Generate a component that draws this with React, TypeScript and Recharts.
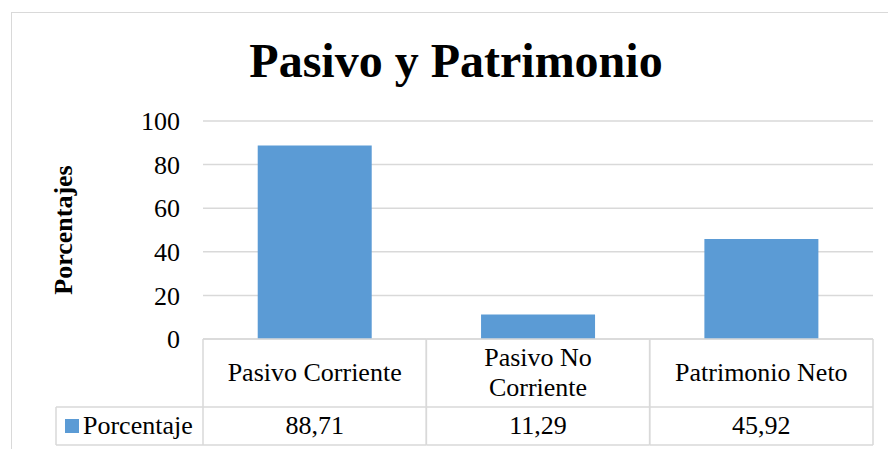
import React from 'react';
import { BarChart, Bar, XAxis, YAxis, CartesianGrid } from 'recharts';

const chartTitle = 'Pasivo y Patrimonio';
const yAxisTitle = 'Porcentajes';
const seriesName = 'Porcentaje';
const categories = ['Pasivo Corriente', 'Pasivo No Corriente', 'Patrimonio Neto'];
const categoryLines = [['Pasivo Corriente'], ['Pasivo No', 'Corriente'], ['Patrimonio Neto']];
const porcentaje = [88.71, 11.29, 45.92];
const yTicks = [0, 20, 40, 60, 80, 100];

const data = categories.map((name, i) => ({ name, value: porcentaje[i], lines: categoryLines[i] }));

const FONT = "'Liberation Serif', 'Times New Roman', serif";
const GRID = '#d9d9d9';
const BAR = '#5B9BD5';

const fmt = (v: number) => v.toFixed(2).replace('.', ',');

function TableTick(props: any) {
  const { x, y, payload, index, width, visibleTicksCount } = props;
  const band = width && visibleTicksCount ? width / visibleTicksCount : 223.3;
  const left = x - band / 2;
  const right = x + band / 2;
  const top = y;
  const mid = top + 68;
  const bottom = top + 106;
  const d = data[index] || data.find((e) => e.name === payload.value);
  const lines = d ? d.lines : [String(payload.value)];
  const textProps = { fontFamily: FONT, fontSize: 26, fill: '#000', textAnchor: 'middle' as const };
  return (
    <g>
      <line x1={left} y1={top} x2={right} y2={top} stroke={GRID} strokeWidth={1.5} />
      <line x1={left} y1={mid} x2={right} y2={mid} stroke={GRID} strokeWidth={1.5} />
      <line x1={left} y1={bottom} x2={right} y2={bottom} stroke={GRID} strokeWidth={1.5} />
      <line x1={left} y1={top} x2={left} y2={bottom} stroke={GRID} strokeWidth={1.5} />
      <line x1={right} y1={top} x2={right} y2={bottom} stroke={GRID} strokeWidth={1.5} />
      {lines.length === 1 ? (
        <text x={x} y={top + 42} {...textProps}>{lines[0]}</text>
      ) : (
        lines.map((t: string, i: number) => (
          <text key={i} x={x} y={top + 27 + i * 30} {...textProps}>{t}</text>
        ))
      )}
      <text x={x} y={top + 95} {...textProps}>{d ? fmt(d.value) : ''}</text>
      {index === 0 && (
        <g>
          <line x1={left - 147} y1={mid} x2={left} y2={mid} stroke={GRID} strokeWidth={1.5} />
          <line x1={left - 147} y1={bottom} x2={left} y2={bottom} stroke={GRID} strokeWidth={1.5} />
          <line x1={left - 147} y1={mid} x2={left - 147} y2={bottom} stroke={GRID} strokeWidth={1.5} />
          <rect x={left - 138} y={mid + 12} width={14} height={14} fill={BAR} />
          <text x={left - 120} y={top + 95} fontFamily={FONT} fontSize={26} fill="#000" textAnchor="start">
            {seriesName}
          </text>
        </g>
      )}
    </g>
  );
}

function YLabel(props: any) {
  const vb = props.viewBox || { x: 0, y: 121, width: 203, height: 218 };
  const cx = vb.x + 72;
  const cy = vb.y + vb.height / 2;
  return (
    <text
      x={cx}
      y={cy}
      transform={`rotate(-90 ${cx} ${cy})`}
      textAnchor="middle"
      fontFamily={FONT}
      fontSize={26}
      fontWeight="bold"
      fill="#000"
    >
      {yAxisTitle}
    </text>
  );
}

export default function App() {
  return (
    <div
      style={{
        position: 'fixed',
        left: 0,
        top: 0,
        width: 888,
        height: 449,
        overflow: 'hidden',
        background: '#fff',
      }}
    >
      <div
        style={{
          position: 'absolute',
          left: 11,
          top: 12,
          width: 900,
          height: 460,
          border: `1.5px solid ${GRID}`,
          boxSizing: 'border-box',
        }}
      />
      <div
        style={{
          position: 'absolute',
          left: 0,
          top: 37,
          width: 912,
          textAlign: 'center',
          fontFamily: FONT,
          fontSize: 48,
          fontWeight: 'bold',
          lineHeight: '48px',
          color: '#000',
        }}
      >
        {chartTitle}
      </div>
      <div style={{ position: 'absolute', left: 0, top: 0 }}>
        <BarChart
          width={888}
          height={449}
          data={data}
          margin={{ top: 121, right: 15, bottom: 0, left: 0 }}
          barCategoryGap="24.5%"
        >
          <CartesianGrid vertical={false} stroke={GRID} strokeWidth={1.5} />
          <XAxis
            dataKey="name"
            height={110}
            axisLine={false}
            tickLine={false}
            tickSize={0}
            tickMargin={0}
            interval={0}
            tick={<TableTick />}
          />
          <YAxis
            width={203}
            domain={[0, 100]}
            ticks={yTicks}
            axisLine={false}
            tickLine={false}
            tickSize={0}
            tickMargin={23}
            tick={{ fontFamily: FONT, fontSize: 26, fill: '#000' }}
            label={{ content: <YLabel /> }}
          />
          <Bar dataKey="value" name={seriesName} fill={BAR} isAnimationActive={false} />
        </BarChart>
      </div>
    </div>
  );
}
